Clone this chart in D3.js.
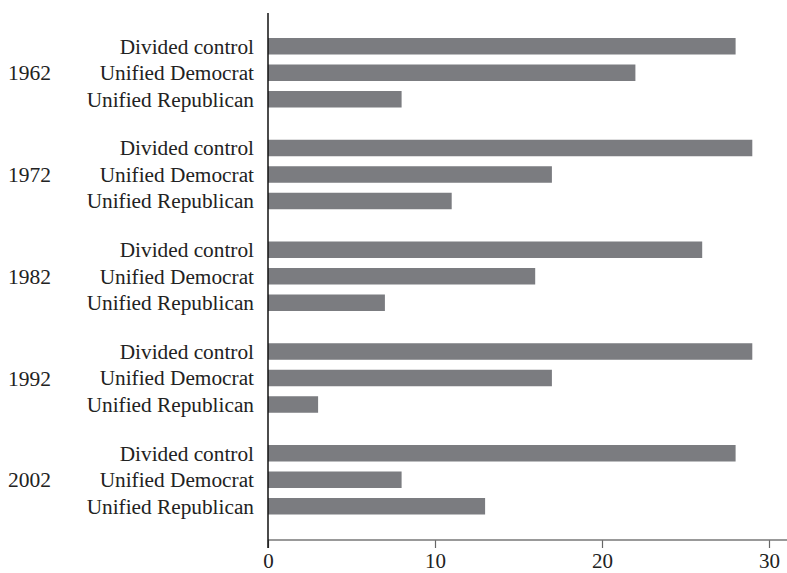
<!DOCTYPE html>
<html>
<head>
<meta charset="utf-8">
<script src="https://cdn.jsdelivr.net/npm/d3@7"></script>
<style>
  html, body { margin: 0; padding: 0; background: #fff; }
  svg text { font-family: "Liberation Serif", "Times New Roman", serif; fill: #222; }
</style>
</head>
<body>
<svg id="chart" width="787" height="573"></svg>
<script>
const years = ["1962", "1972", "1982", "1992", "2002"];
const categories = ["Divided control", "Unified Democrat", "Unified Republican"];
const divided = [28, 29, 26, 29, 28];
const democrat = [22, 17, 16, 17, 8];
const republican = [8, 11, 7, 3, 13];
const xTicks = [0, 10, 20, 30];

const seriesByCat = {
  "Divided control": divided,
  "Unified Democrat": democrat,
  "Unified Republican": republican
};

const data = [];
years.forEach((yr, i) => {
  categories.forEach(c => data.push({ year: yr, cat: c, value: seriesByCat[c][i] }));
});

const svg = d3.select("#chart");
const W = 787;
const axisY = 540;

const x = d3.scaleLinear().domain([0, 30]).range([268, 769]);
const yYear = d3.scaleBand().domain(years).range([25, 25 + 5 * 101.75]).padding(0);
const yCat = d3.scaleBand().domain(categories).range([13, 82.5]).paddingInner(10 / 26.5).paddingOuter(0);

// bars
svg.append("g").selectAll("rect").data(data).join("rect")
  .attr("x", x(0))
  .attr("y", d => yYear(d.year) + yCat(d.cat))
  .attr("width", d => x(d.value) - x(0))
  .attr("height", yCat.bandwidth())
  .attr("fill", "#7b7c80");

// category labels
svg.append("g").selectAll("text").data(data).join("text")
  .attr("x", 254)
  .attr("y", d => yYear(d.year) + yCat(d.cat) + yCat.bandwidth() / 2)
  .attr("dy", "0.35em")
  .attr("text-anchor", "end")
  .attr("font-size", 21.3)
  .text(d => d.cat);

// year labels
svg.append("g").selectAll("text").data(years).join("text")
  .attr("x", 8)
  .attr("y", d => yYear(d) + yCat(categories[1]) + yCat.bandwidth() / 2)
  .attr("dy", "0.35em")
  .attr("font-size", 21.5)
  .text(d => d);

// x axis
const xAxis = d3.axisBottom(x).tickValues(xTicks).tickSize(8).tickPadding(8).tickFormat(d3.format("d"));
const gx = svg.append("g").attr("transform", `translate(0,${axisY})`).call(xAxis);
gx.select(".domain").remove();
gx.selectAll(".tick line").attr("stroke", "#666").attr("stroke-width", 1.2);
gx.selectAll(".tick text")
  .attr("font-size", 21)
  .attr("font-family", "Liberation Serif, Times New Roman, serif")
  .attr("fill", "#222")
  .attr("dy", "0.56em");
gx.append("line")
  .attr("x1", x(0)).attr("x2", W)
  .attr("y1", 0).attr("y2", 0)
  .attr("stroke", "#777").attr("stroke-width", 1.5);

// y axis line
svg.append("line")
  .attr("x1", x(0)).attr("x2", x(0))
  .attr("y1", 13).attr("y2", axisY + 8)
  .attr("stroke", "#111").attr("stroke-width", 1.5);
</script>
</body>
</html>
